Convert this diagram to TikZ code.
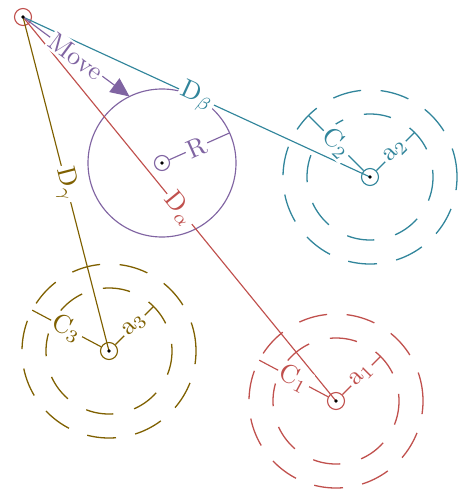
\RequirePackage{fix-cm}
\documentclass[tikz,border=0pt]{standalone}
\usetikzlibrary{arrows.meta,calc}
\definecolor{cred}{RGB}{192,80,77}
\definecolor{cteal}{RGB}{49,133,155}
\definecolor{cpurp}{RGB}{128,100,162}
\definecolor{colive}{RGB}{127,96,0}
\begin{document}
\begin{tikzpicture}[x=1pt,y=1pt,
  lbl/.style={fill=white,inner sep=0.8pt,sloped,font=\normalsize,scale=2.6},
  ring/.style={circle,draw,line width=1.15pt,minimum size=17pt,inner sep=0pt},
  dot/.style={circle,fill=black,minimum size=3.6pt,inner sep=0pt},
  ln/.style={line width=1.15pt},
  outerring/.style={line width=1.3pt,dash pattern=on 29pt off 19.5pt},
  innerring/.style={line width=1.3pt,dash pattern=on 27.5pt off 21.5pt}]
\useasboundingbox (0,0) rectangle (458,-489);

% centres
\coordinate (S) at (23,-17);
\coordinate (Rc) at (162,-163);
\coordinate (A1) at (336,-401);
\coordinate (A2) at (370,-177);
\coordinate (A3) at (109,-351);

% dashed rings
\foreach \c/\col in {A1/cred,A2/cteal,A3/colive}{
  \draw[outerring,\col] (\c) ++(0:87) arc[start angle=0,end angle=360,radius=87];
  \draw[innerring,\col] (\c) ++(3:63) arc[start angle=3,end angle=-357,radius=63];
}

% big circle R
\draw[cpurp,ln] (Rc) circle[radius=74];

% small rings
\node[ring,draw=cred] (src) at (S) {};
\node[ring,draw=cpurp,minimum size=15pt] (rcn) at (Rc) {};
\node[ring,draw=cred] (a1) at (A1) {};
\node[ring,draw=cteal] (a2) at (A2) {};
\node[ring,draw=colive] (a3) at (A3) {};

% distance lines
\draw[cteal,ln] (src.center) -- (a2.center) node[midway,lbl]{$\mathrm{D}_\beta$};
\draw[cred,ln] (src.center) -- (a1.center) node[midway,lbl]{$\mathrm{D}_\alpha$};
\draw[colive,ln] (src.center) -- (a3.center) node[midway,lbl]{$\mathrm{D}_\gamma$};

% move arrow
\coordinate (M) at ($(Rc)+(116:74)$);
\draw[cpurp,ln,-{Triangle[length=19pt,width=17pt]}] (src.center) -- (M) node[midway,lbl]{Move};

% R radius
\coordinate (Rend) at ($(Rc)+(24:74)$);
\draw[cpurp,ln] (rcn.24) -- (Rend) node[pos=0.45,lbl]{R};

% C and a radii
\coordinate (C1e) at ($(A1)+(152:87)$);
\coordinate (C2e) at ($(A2)+(135:87)$);
\coordinate (C3e) at ($(A3)+(152:87)$);
\coordinate (a1e) at ($(A1)+(45:63)$);
\coordinate (a2e) at ($(A2)+(45:63)$);
\coordinate (a3e) at ($(A3)+(45:63)$);
\draw[cred,ln] (a1.152) -- (C1e) node[midway,lbl]{$\mathrm{C}_1$};
\draw[cred,ln] (a1.45) -- (a1e) node[midway,lbl]{$\mathrm{a}_1$};
\draw[cteal,ln] (a2.135) -- (C2e) node[midway,lbl]{$\mathrm{C}_2$};
\draw[cteal,ln] (a2.45) -- (a2e) node[midway,lbl]{$\mathrm{a}_2$};
\draw[colive,ln] (a3.152) -- (C3e) node[midway,lbl]{$\mathrm{C}_3$};
\draw[colive,ln] (a3.45) -- (a3e) node[midway,lbl]{$\mathrm{a}_3$};

% centre dots
\node[dot] (sdot) at (S) {};
\node[dot] (rdot) at (Rc) {};
\node[dot] (d1) at (A1) {};
\node[dot] (d2) at (A2) {};
\node[dot] (d3) at (A3) {};
\end{tikzpicture}
\end{document}
